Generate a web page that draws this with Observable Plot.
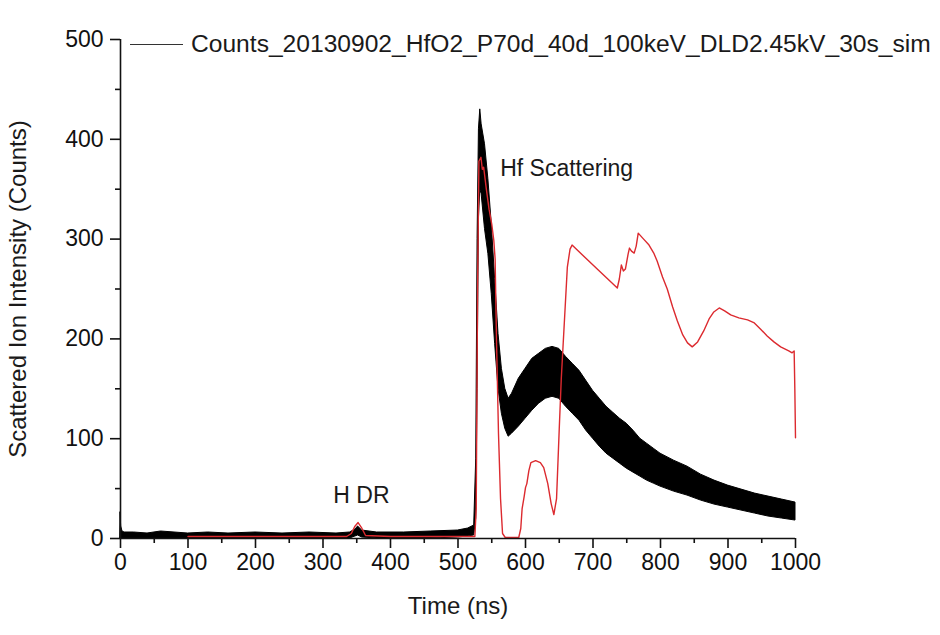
<!DOCTYPE html>
<html>
<head>
<meta charset="utf-8">
<script src="https://cdn.jsdelivr.net/npm/d3@7"></script>
<script src="https://cdn.jsdelivr.net/npm/@observablehq/plot@0.6"></script>
<style>
  body { margin: 0; background: #fff; font-family: "Liberation Sans", Arial, sans-serif; }
  #wrap { position: relative; width: 940px; height: 635px; }
  #legend { position: absolute; left: 130px; top: 30px; display: flex; align-items: center; font-size: 24.6px; color: #1a1a1a; white-space: nowrap; }
  #legend .sw { width: 53px; height: 0; border-top: 1.3px solid #333; margin-right: 8px; }
</style>
</head>
<body>
<div id="wrap">
  <div id="chart"></div>
  <div id="legend"><span class="sw"></span><span id="legendText"></span></div>
</div>
<script>
// ---- data ----
const seriesName = "Counts_20130902_HfO2_P70d_40d_100keV_DLD2.45kV_30s_sim";
const xLabel = "Time (ns)";
const yLabel = "Scattered Ion Intensity (Counts)";
const xTicks = [0, 100, 200, 300, 400, 500, 600, 700, 800, 900, 1000];
const xMinorTicks = [50, 150, 250, 350, 450, 550, 650, 750, 850, 950];
const yTicks = [0, 100, 200, 300, 400, 500];
const yMinorTicks = [50, 150, 250, 350, 450];

// measured counts: noisy band, lower / upper envelope
const countsTime = [0, 1, 3, 6, 20, 40, 60, 80, 100, 130, 160, 200, 240, 280, 320, 340, 348, 352, 358, 380, 420, 460, 500, 515, 524, 527, 529, 531, 533, 535, 540, 545, 550, 555, 560, 565, 570, 575, 580, 590, 600, 610, 620, 630, 640, 650, 660, 670, 680, 690, 700, 710, 720, 730, 740, 750, 760, 770, 780, 790, 800, 820, 840, 860, 880, 900, 920, 940, 960, 980, 1000];
const countsLow  = [0, 0, 0, 0, 0, 0, 0, 0, 0, 0, 0, 0, 0, 0, 0, 0, 2, 3, 1, 0, 0, 0, 1, 2, 3, 20, 150, 320, 350, 345, 310, 285, 245, 195, 150, 125, 110, 102, 105, 112, 120, 128, 135, 140, 142, 140, 132, 125, 118, 108, 100, 92, 85, 80, 75, 70, 66, 62, 58, 55, 52, 47, 43, 38, 34, 31, 28, 25, 22, 20, 18];
const countsHigh = [26, 12, 7, 6, 6, 5, 7, 6, 5, 6, 5, 6, 5, 6, 5, 6, 9, 12, 8, 6, 6, 7, 8, 10, 13, 80, 300, 410, 430, 415, 395, 360, 315, 260, 205, 170, 150, 140, 145, 160, 170, 180, 185, 190, 192, 190, 182, 175, 168, 158, 148, 140, 132, 126, 120, 115, 108, 100, 95, 90, 85, 78, 72, 64, 58, 53, 49, 45, 42, 39, 36];

// simulation (red line)
const simTime  = [100, 200, 300, 335, 342, 347, 352, 357, 363, 400, 500, 525, 527, 529, 531, 534, 536, 538, 542, 546, 550, 553, 555, 557, 560, 563, 566, 570, 590, 593, 595, 598, 600, 602, 605, 608, 615, 622, 627, 633, 638, 642, 646, 650, 653, 657, 662, 666, 669, 700, 736, 739, 742, 745, 748, 752, 754, 757, 761, 764, 767, 775, 783, 790, 795, 803, 810, 818, 825, 833, 840, 847, 855, 864, 872, 879, 887, 895, 904, 916, 929, 939, 948, 958, 968, 978, 990, 995, 998, 999, 1000];
const simCounts = [2, 2, 2, 2, 5, 12, 16, 11, 3, 2, 2, 2, 30, 250, 378, 382, 370, 372, 350, 330, 315, 299, 280, 200, 105, 40, 5, 1, 1, 10, 30, 42, 51, 55, 68, 76, 78, 76, 71, 55, 35, 24, 40, 110, 160, 210, 272, 290, 294, 274, 251, 260, 274, 268, 270, 285, 291, 288, 286, 293, 306, 300, 294, 286, 278, 262, 250, 232, 218, 204, 196, 192, 197, 208, 220, 227, 231, 228, 224, 221, 219, 216, 210, 203, 197, 192, 188, 186, 188, 150, 101];

const annoX = [661, 357];
const annoY = [371, 43];
const annoText = ["Hf Scattering", "H DR"];

// ---- tables for Plot ----
const counts = countsTime.map((t, i) => ({t, lo: countsLow[i], hi: countsHigh[i]}));
const sim = simTime.map((t, i) => ({t, v: simCounts[i]}));
const annos = annoText.map((s, i) => ({x: annoX[i], y: annoY[i], s}));

document.getElementById("legendText").textContent = seriesName;

const font = "'Liberation Sans', Arial, sans-serif";
const axisColor = "#111";

const chart = Plot.plot({
  width: 940,
  height: 635,
  marginLeft: 120,
  marginRight: 145,
  marginTop: 39,
  marginBottom: 97,
  style: {fontFamily: font, background: "white", color: "#111"},
  x: {domain: [0, 1000]},
  y: {domain: [0, 500]},
  marks: [
    Plot.areaY(counts, {x: "t", y1: "lo", y2: "hi", fill: "#000", stroke: "#000", strokeWidth: 1}),
    Plot.line(sim, {x: "t", y: "v", stroke: "#dc2a2f", strokeWidth: 1.4}),
    Plot.text(annos, {x: "x", y: "y", text: "s", fontSize: 23, fill: "#1a1a1a"}),
    Plot.ruleX([0], {y1: 0, y2: 500, stroke: axisColor, strokeWidth: 1.6}),
    Plot.ruleY([0], {x1: 0, x2: 1000, stroke: axisColor, strokeWidth: 1.6}),
    Plot.axisX({ticks: xTicks, tickSize: 10, tickPadding: 5, fontSize: 23, tickFormat: d => String(d), label: null, stroke: axisColor, strokeWidth: 1.6, fill: "#111"}),
    Plot.axisX({ticks: xMinorTicks, tickSize: 5, tickFormat: () => "", label: null, stroke: axisColor, strokeWidth: 1.6}),
    Plot.axisY({ticks: yTicks, tickSize: 10, tickPadding: 7, fontSize: 23, tickFormat: d => String(d), label: null, stroke: axisColor, strokeWidth: 1.6, fill: "#111"}),
    Plot.axisY({ticks: yMinorTicks, tickSize: 5, tickFormat: () => "", label: null, stroke: axisColor, strokeWidth: 1.6}),
    Plot.text([xLabel], {frameAnchor: "bottom", dy: 68, textAnchor: "middle", lineAnchor: "middle", fontSize: 24, fill: "#1a1a1a"}),
    Plot.text([yLabel], {frameAnchor: "left", dx: -102, rotate: -90, textAnchor: "middle", lineAnchor: "middle", fontSize: 24, fill: "#1a1a1a"})
  ]
});
document.getElementById("chart").appendChild(chart);
</script>
</body>
</html>
